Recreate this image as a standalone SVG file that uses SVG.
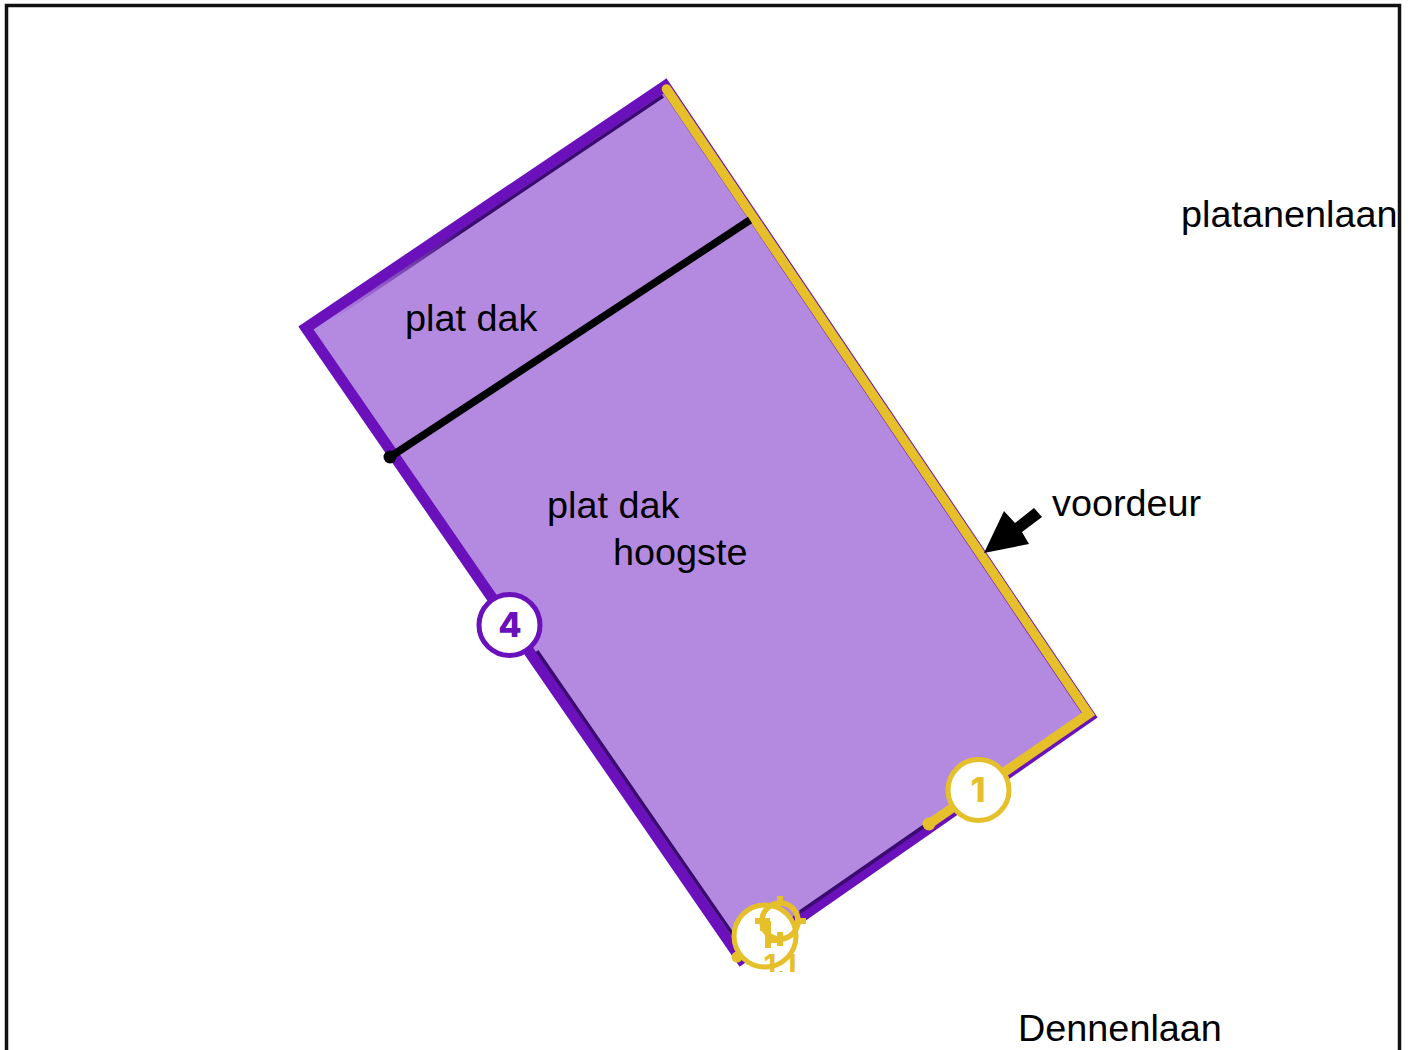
<svg xmlns="http://www.w3.org/2000/svg" width="1411" height="1050" viewBox="0 0 1411 1050">
<style>
.lbl{font-family:"Liberation Sans",Arial,sans-serif;font-size:37.8px;fill:#000}
.num{font-family:Inter,"Liberation Sans",sans-serif;font-weight:800;font-size:34px;text-anchor:middle}
.y{fill:none;stroke:#e6c02a;stroke-width:9.5;stroke-linecap:round;stroke-linejoin:miter}
.badge{fill:#fff;stroke-width:5}
</style>
<defs>
<clipPath id="c"><rect x="700" y="880" width="120" height="92"/></clipPath>
<linearGradient id="fade" gradientUnits="userSpaceOnUse" x1="663" y1="96" x2="330" y2="320">
<stop offset="0" stop-color="#3c0b72"/><stop offset=".6" stop-color="#3c0b72"/><stop offset="1" stop-color="#6a11bb" stop-opacity="0"/>
</linearGradient>
</defs>
<rect id="frame" x="6.5" y="5.5" width="1393" height="1060" fill="#fff" stroke="#111" stroke-width="3.5"/>
<g id="roof">
<polygon points="665,86 306,328 741,959 1090,716" fill="#b48ae0" stroke="#6a11bb" stroke-width="11"/>
<path d="M663,96 L330,320" fill="none" stroke="url(#fade)" stroke-width="3.500"/>
<path d="M537,651 L738,942 M800,912 L930,822" fill="none" stroke="#3c0b72" stroke-width="3.500"/>
</g>
<g id="connectors">
<path class="y" d="M666.500,89 L1088.500,714 L929,824"/>
<circle cx="929" cy="824" r="6.500" fill="#e6c02a"/>
<path d="M390,457 L750,220" stroke="#000" stroke-width="7.500" fill="none"/>
<circle cx="390" cy="457" r="6.500" fill="#000"/>
<polygon points="984,553 1004,511 1015,523 1034,508 1042,517 1022,532 1029,544"/>
</g>
<g id="node-4">
<circle class="badge" cx="509.500" cy="625" r="30.500" stroke="#6a11bb"/>
<text class="num" x="510" y="637" fill="#6a11bb">4</text>
</g>
<g id="node-1">
<circle class="badge" cx="978.500" cy="790" r="30.500" stroke="#e6c02a"/>
<text class="num" x="978" y="802" fill="#e6c02a">1</text>
</g>
<g id="node-1-1" clip-path="url(#c)">
<circle class="badge" cx="765" cy="936" r="31" stroke="#e6c02a"/>
<circle cx="737" cy="957" r="5.500" fill="#e6c02a"/>
<circle cx="780" cy="921" r="18" fill="none" stroke="#e6c02a" stroke-width="5.500"/>
<path d="M780,896 V906 M780,932 V946 M755,921 H770 M795,921 H806 M760,928 H770 M768,921 V948 M768,940 H783" fill="none" stroke="#e6c02a" stroke-width="6"/>
<text x="780" y="976" font-family="Inter,'Liberation Sans',sans-serif" font-weight="700" font-size="30" fill="#e6c02a" text-anchor="middle">1.1</text>
</g>
<g id="labels">
<text class="lbl" x="1181" y="227">platanenlaan</text>
<text class="lbl" x="405" y="331">plat dak</text>
<text class="lbl" x="547" y="518">plat dak</text>
<text class="lbl" x="613" y="565">hoogste</text>
<text class="lbl" x="1052" y="516">voordeur</text>
<text class="lbl" x="1018" y="1041">Dennenlaan</text>
</g>
</svg>
